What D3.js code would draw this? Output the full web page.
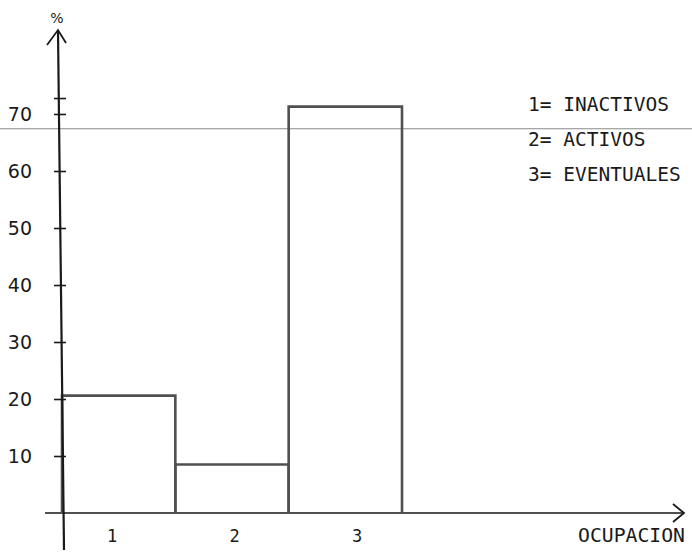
<!DOCTYPE html>
<html><head><meta charset="utf-8">
<script src="https://cdn.jsdelivr.net/npm/d3@7"></script>
<style>body{margin:0;background:#fff}svg{display:block}</style>
</head><body>
<svg id="c" width="692" height="554"></svg>
<script>
const categories = ["1", "2", "3"];
const values = [20.6, 8.5, 71.3];
const yTicks = [10, 20, 30, 40, 50, 60, 70];
const minorTicks = [72.8];
const legendItems = ["1= INACTIVOS", "2= ACTIVOS", "3= EVENTUALES"];
const refLine = 67.4;
const yLabel = "%";
const xLabel = "OCUPACION";

const svg = d3.select("#c");
const x = d3.scaleBand().domain(categories).range([62, 402]).paddingInner(0).paddingOuter(0);
const xLab = d3.scalePoint().domain(categories).range([112, 357]);
const y = d3.scaleLinear().domain([0, 70]).range([513, 114]);
const ink = "#1a1a1a";
const barInk = "#505050";
const mono = "'DejaVu Sans Mono', monospace";

// faint horizontal reference line across the page
svg.append("line").attr("x1", 0).attr("x2", 692)
  .attr("y1", y(refLine)).attr("y2", y(refLine))
  .attr("stroke", "#8a8a8a").attr("stroke-width", 1.1);

// bars (outlines)
svg.append("g").selectAll("path").data(categories).join("path")
  .attr("d", (c, i) => {
    const x0 = x(c), x1 = x(c) + x.bandwidth();
    return `M${x0},${y(0)}V${y(values[i])}H${x1}V${y(0)}`;
  })
  .attr("fill", "none").attr("stroke", barInk).attr("stroke-width", 2.6);

// x axis with arrow
svg.append("line").attr("x1", 45).attr("x2", 683).attr("y1", y(0)).attr("y2", y(0))
  .attr("stroke", barInk).attr("stroke-width", 2);
svg.append("path").attr("d", `M673,${y(0)-9}L684,${y(0)}L673,${y(0)+9}`)
  .attr("fill", "none").attr("stroke", ink).attr("stroke-width", 1.8);

// y axis with arrow
svg.append("line").attr("x1", 58).attr("x2", 64).attr("y1", 31).attr("y2", 550)
  .attr("stroke", ink).attr("stroke-width", 2.2);
svg.append("path").attr("d", "M47,45L58,30L66,43")
  .attr("fill", "none").attr("stroke", ink).attr("stroke-width", 1.8);

// y ticks
const yAxis = d3.axisLeft(y).tickValues(yTicks).tickSize(12).tickFormat(d3.format("d"));
const gy = svg.append("g").attr("transform", "translate(66,0)").call(yAxis);
gy.select(".domain").remove();
gy.selectAll(".tick line").attr("stroke", ink).attr("stroke-width", 1.6);
gy.selectAll(".tick text").attr("x", -34).attr("font-family", "'DejaVu Sans', sans-serif")
  .attr("font-size", 19).attr("fill", ink).attr("dy", "0.36em");

const gm = svg.append("g").attr("transform", "translate(66,0)")
  .call(d3.axisLeft(y).tickValues(minorTicks).tickSize(12).tickFormat(""));
gm.select(".domain").remove();
gm.selectAll(".tick line").attr("stroke", ink).attr("stroke-width", 1.6);

// category labels
svg.append("g").selectAll("text").data(categories).join("text")
  .attr("x", c => xLab(c)).attr("y", 542)
  .attr("text-anchor", "middle").attr("font-family", mono)
  .attr("font-size", 17).attr("fill", ink).text(c => c);

svg.append("text").attr("x", 578).attr("y", 542).attr("font-family", mono)
  .attr("font-size", 19.5).attr("fill", ink).attr("textLength", 107)
  .attr("lengthAdjust", "spacingAndGlyphs").text(xLabel);

svg.append("text").attr("x", 57).attr("y", 23).attr("text-anchor", "middle")
  .attr("font-family", "'DejaVu Sans', sans-serif").attr("font-size", 14).attr("fill", ink).text(yLabel);

// legend
svg.append("g").selectAll("text").data(legendItems).join("text")
  .attr("x", 528).attr("y", (d, i) => 111 + i * 35)
  .attr("font-family", mono).attr("font-size", 19.5)
  .attr("fill", ink).text(d => d);
</script>
</body></html>
